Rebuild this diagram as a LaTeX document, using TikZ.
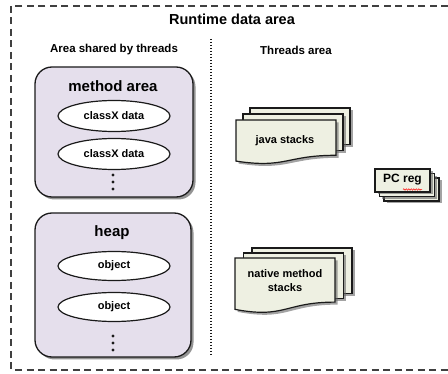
\documentclass[tikz,border=0pt]{standalone}
\usepackage{fontspec}
\setmainfont{Liberation Sans}
\usetikzlibrary{shapes.geometric,shadows,decorations.pathmorphing}
\definecolor{lav}{HTML}{E5DFEC}
\definecolor{cream}{HTML}{EEF0E2}
\definecolor{edge}{HTML}{1A1A1A}
\definecolor{framec}{HTML}{404040}
\tikzset{
  areabox/.style={draw=edge, line width=1.3pt, fill=lav, rounded corners=17pt,
    drop shadow={shadow xshift=2.5pt, shadow yshift=-2.5pt, fill=black!60, opacity=.7}},
  blob/.style={ellipse, draw=edge, line width=1.2pt, fill=white, minimum width=112pt,
    minimum height=31pt, inner sep=0pt, font=\bfseries\fontsize{11}{13}\selectfont},
  sheet/.style={draw=edge, line width=1.2pt, fill=cream,
    drop shadow={shadow xshift=2.5pt, shadow yshift=-2.5pt, fill=black!60, opacity=.6}},
  headtxt/.style={font=\bfseries\fontsize{15}{18}\selectfont},
  lbl/.style={font=\bfseries\fontsize{11}{14}\selectfont, align=center},
  ddot/.style={fill=edge, circle, inner sep=0pt, minimum size=3.2pt}
}
\newcommand\multidoc[6]{%
  \draw[sheet] (#1+2*#5,#2+2*#6) rectangle ++(#3,0.83*#4);
  \draw[sheet] (#1+#5,#2+#6) rectangle ++(#3,0.83*#4);
  \draw[sheet] (#1,#2) -- (#1+#3,#2) -- (#1+#3,#2+0.802*#4)
    .. controls (#1+0.5*#3,#2+0.802*#4) and (#1+0.5*#3,#2+1.107*#4) .. (#1,#2+0.934*#4) -- cycle;
}
\begin{document}
\begin{tikzpicture}[x=1pt,y=-1pt]
\useasboundingbox (0,0) rectangle (448,374);
% outer frame
\draw[framec, line width=1.1pt, dash pattern=on 7pt off 4.5pt] (11,6) rectangle (475,370);
\node[font=\bfseries\fontsize{14.5}{17}\selectfont] (title) at (232,19) {Runtime data area};
\node[lbl, font=\bfseries\fontsize{11.5}{14}\selectfont] (shared) at (114,50) {Area shared by threads};
\node[lbl, font=\bfseries\fontsize{11.5}{14}\selectfont] (threads) at (296,50) {Threads area};
% separator
\coordinate (sepTop) at (211,39);
\coordinate (sepBot) at (211,355);
\draw[edge, line width=1.6pt, dash pattern=on 1.5pt off 1.5pt] (sepTop) -- (sepBot);
% method area
\draw[areabox] (35,67) rectangle (193,197);
\node[headtxt] (marea) at (113,86) {method area};
\node[blob] (c1) at (114,116) {classX data};
\node[blob] (c2) at (114,154) {classX data};
\node[ddot] (md1) at (113,175) {};
\node[ddot] (md2) at (113,182) {};
\node[ddot] (md3) at (113,189) {};
% heap
\draw[areabox] (35,213) rectangle (191,357);
\node[headtxt] (heap) at (112,233) {heap};
\node[blob, minimum height=29pt] (o1) at (114,266) {object};
\node[blob, minimum height=29pt] (o2) at (114,307) {object};
\node[ddot] (hd1) at (113,336) {};
\node[ddot] (hd2) at (113,343) {};
\node[ddot] (hd3) at (113,350) {};
% java stacks
\multidoc{236}{120}{100}{44}{7}{-6}
\node[lbl] (java) at (285,141) {java stacks};
% native method stacks
\multidoc{235}{258}{100}{55}{8.5}{-5}
\node[lbl] (native) at (285,281) {native method\\stacks};
% PC reg
\draw[sheet] (384,178) rectangle ++(55,23);
\draw[sheet] (379.5,173.5) rectangle ++(55,23);
\draw[sheet] (375,169) rectangle ++(55,23);
\node[lbl, font=\bfseries\fontsize{12}{14}\selectfont] (pc) at (402.5,180) {PC reg};
\coordinate (sqA) at (403,189.5);
\coordinate (sqB) at (422,189.5);
\draw[red, line width=0.5pt, decorate, decoration={snake, amplitude=0.7pt, segment length=2.5pt}] (sqA) -- (sqB);
\end{tikzpicture}
\end{document}
